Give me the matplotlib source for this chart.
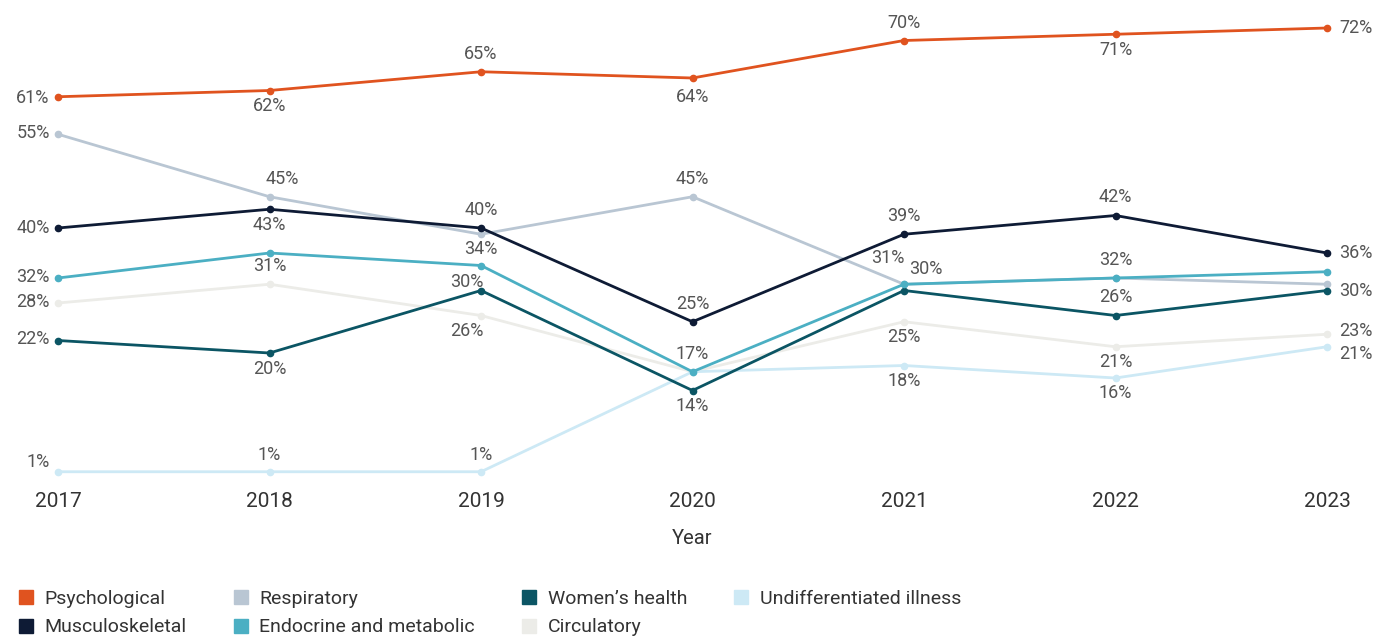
import matplotlib
matplotlib.use("Agg")
import matplotlib.pyplot as plt
from matplotlib.lines import Line2D

plt.rcParams['font.family'] = ['Roboto', 'DejaVu Sans']

years = [2017, 2018, 2019, 2020, 2021, 2022, 2023]

psychological = [61, 62, 65, 64, 70, 71, 72]
respiratory = [55, 45, 39, 45, 31, 32, 31]
musculoskeletal = [40, 43, 40, 25, 39, 42, 36]
endocrine = [32, 36, 34, 17, 31, 32, 33]
womens_health = [22, 20, 30, 14, 30, 26, 30]
undifferentiated = [1, 1, 1, 17, 18, 16, 21]
circulatory = [28, 31, 26, 17, 25, 21, 23]

series = [
    ("Psychological", psychological, "#e0531f"),
    ("Respiratory", respiratory, "#b9c6d3"),
    ("Musculoskeletal", musculoskeletal, "#0e1b35"),
    ("Endocrine and metabolic", endocrine, "#4bafc3"),
    ("Women\u2019s health", womens_health, "#0b5564"),
    ("Undifferentiated illness", undifferentiated, "#cde9f5"),
    ("Circulatory", circulatory, "#ecece8"),
]

# which points get a label, and where (offset in points, ha)
label_pos = {
    "Psychological": {0: (-6, -1, 'right'), 1: (0, -11, 'center'), 2: (0, 13, 'center'),
                      3: (0, -14, 'center'), 4: (0, 12.5, 'center'), 5: (0, -11.5, 'center'),
                      6: (9, 0, 'left')},
    "Respiratory": {0: (-6, 1, 'right'), 1: (9, 12.5, 'center'), 3: (0, 13, 'center'),
                    4: (-12, 19, 'center'), 5: (0, 13, 'center')},
    "Musculoskeletal": {0: (-6, 0, 'right'), 1: (0, -11.5, 'center'), 2: (0, 13, 'center'),
                        3: (0, 13, 'center'), 4: (0, 13, 'center'), 5: (0, 13, 'center'),
                        6: (9, 0, 'left')},
    "Endocrine and metabolic": {0: (-6, 1, 'right'), 2: (0, 12, 'center'),
                                3: (0, 13, 'center')},
    "Women\u2019s health": {0: (-6, 1, 'right'), 1: (0, -11.5, 'center'), 2: (-10, 6, 'center'),
                            3: (0, -11, 'center'), 4: (16, 15.5, 'center'), 5: (0, 13, 'center'),
                            6: (9, 0, 'left')},
    "Undifferentiated illness": {0: (-6, 7, 'right'), 1: (0, 12, 'center'),
                                 2: (0, 12, 'center'), 4: (0, -11, 'center'),
                                 5: (0, -11, 'center'), 6: (9, -5, 'left')},
    "Circulatory": {0: (-6, 1, 'right'), 1: (0, 13, 'center'), 2: (-10, -11, 'center'),
                    4: (0, -11, 'center'), 5: (0, -11, 'center'), 6: (9, 2, 'left')},
}

fig = plt.figure(figsize=(13.73, 6.39), dpi=100)
ax = fig.add_axes([58 / 1373, 1 - 478 / 639, (1327 - 58) / 1373, (478 - 9.25) / 639])

draw_order = ["Circulatory", "Undifferentiated illness", "Respiratory", "Women\u2019s health",
              "Endocrine and metabolic", "Musculoskeletal", "Psychological"]
lookup = {name: (vals, col) for name, vals, col in series}

for z, name in enumerate(draw_order):
    vals, col = lookup[name]
    ax.plot(years, vals, color=col, lw=2.0, marker='o', ms=4.5, clip_on=False, zorder=2 + z)
    for i, (dx, dy, ha) in label_pos[name].items():
        ax.annotate(f"{vals[i]}%", (years[i], vals[i]), xytext=(dx, dy),
                    textcoords='offset points', ha=ha, va='center',
                    fontsize=13, color='#555555', zorder=20)

ax.set_xlim(2017, 2023)
ax.set_ylim(0, 75)
ax.set_xticks(years)
ax.set_xticklabels([str(y) for y in years], fontsize=15, color='#333333')
ax.tick_params(axis='x', length=0, pad=10)
ax.set_yticks([])
for s in ax.spines.values():
    s.set_visible(False)
ax.set_xlabel("Year", fontsize=14.5, color='#333333', labelpad=13)

# legend, filled column by column
legend_order = ["Psychological", "Musculoskeletal", "Respiratory", "Endocrine and metabolic",
                "Women\u2019s health", "Circulatory", "Undifferentiated illness"]
hmap = {name: Line2D([0], [0], marker='s', ls='none', ms=10, color=col, label=name)
        for name, vals, col in series}
fig.legend(handles=[hmap[n] for n in legend_order], loc='upper left',
           bbox_to_anchor=(8 / 1373, 1 - 582 / 639), ncol=4, frameon=False,
           fontsize=14, labelcolor='#333333', handletextpad=0.45, columnspacing=2.3,
           handlelength=1.0, labelspacing=0.55, borderaxespad=0)

fig.savefig("out.png", dpi=100, facecolor='white')
